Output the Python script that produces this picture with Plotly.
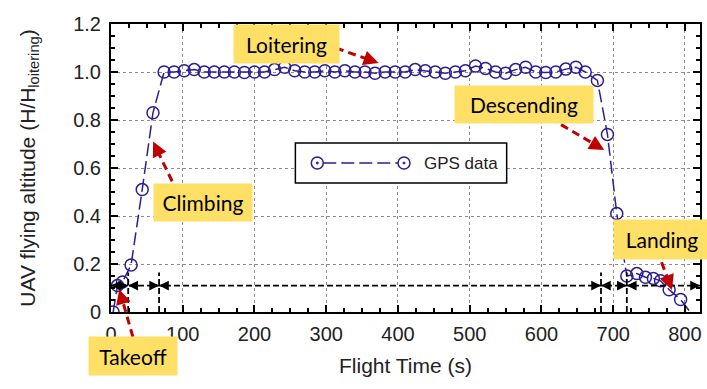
import plotly.graph_objects as go

# ---- flight record (time in s, altitude normalised by loitering altitude) ----
time_s = [3, 9, 16, 28, 43.5, 58.5,
          74, 88, 102, 116, 130, 144, 158, 172, 186, 200, 214, 228, 242, 256,
          270, 284, 298, 312, 326, 340, 354, 368, 382, 396, 410, 424, 438, 452,
          466, 480, 494, 508, 522, 536, 550, 564, 578, 592, 606, 620, 634, 648,
          661,
          678, 692, 705, 719, 733, 745, 756, 766, 778, 794, 815]
altitude = [0.0, 0.11, 0.125, 0.196, 0.51, 0.83,
            1.0, 1.0, 1.005, 1.01, 1.0, 1.0, 1.0, 1.0, 0.998, 1.0, 1.0, 1.01, 1.02, 1.005,
            1.0, 1.0, 1.005, 1.0, 1.005, 1.0, 1.0, 0.995, 1.0, 1.0, 1.0, 1.01, 1.005, 1.0,
            0.995, 1.0, 1.005, 1.025, 1.015, 1.0, 0.995, 1.01, 1.02, 1.0, 0.998, 1.0, 1.012, 1.02,
            1.0,
            0.965, 0.74, 0.41, 0.15, 0.16, 0.145, 0.14, 0.13, 0.093, 0.052, -0.03]

x_ticks = [0, 100, 200, 300, 400, 500, 600, 700, 800]
y_ticks = [0, 0.2, 0.4, 0.6, 0.8, 1.0, 1.2]
y_tick_text = ["0", "0.2", "0.4", "0.6", "0.8", "1.0", "1.2"]

# phase boundaries (s) and the level of the phase-duration arrows
phase_bounds = [0, 24, 67, 683, 719, 821]
phase_level = 0.11

# phase labels: text, box centre (data units), box size (px)
phase_labels = [
    ("Loitering", 245, 1.117, 105, 38),
    ("Descending", 575, 0.865, 138, 37),
    ("Climbing", 128, 0.458, 98, 37),
    ("Takeoff", 31, -0.183, 88, 38),
    ("Landing", 768, 0.302, 96, 39),
]
# pointer arrows: (tail x, tail y) -> (head x, head y), data units
phase_pointers = [
    (313.5, 1.10, 373, 1.0375),
    (611.7, 0.808, 687.5, 0.675),
    (93, 0.496, 58.7, 0.71),
    (30.5, -0.104, 11.5, 0.095),
    (761, 0.258, 782, 0.092),
]

X_MAX, Y_MAX = 821, 1.2
W, H = 707, 389
ML, MR, MT, MB = 111, 5, 24, 77
PW, PH = W - ML - MR, H - MT - MB
KX, KY = PW / X_MAX, PH / Y_MAX

BLUE = "#2d1e8f"
RED = "#c00000"
YELLOW = "#ffe066"
AX_FONT = "Liberation Sans, Arial, sans-serif"
LBL_FONT = "Lato, Carlito, sans-serif"


def px_to_paper(px, py):
    return (px - ML) / PW, (H - MB - py) / PH


fig = go.Figure()
fig.add_trace(go.Scatter(
    x=time_s, y=altitude, mode="lines+markers", name="GPS data",
    line=dict(color=BLUE, width=1.5, dash="13px,5px"),
    marker=dict(symbol="circle-open", size=12, color=BLUE, line=dict(width=1.5)),
    showlegend=False,
))

shapes = []
annotations = []

# phase boundary markers and duration arrows
for b in phase_bounds[1:-1]:
    shapes.append(dict(type="line", xref="x", yref="y", x0=b, x1=b, y0=0, y1=0.165,
                       line=dict(color="black", width=1.8, dash="6px,3px")))
shapes.append(dict(type="line", xref="x", yref="y", x0=0, x1=X_MAX,
                   y0=phase_level, y1=phase_level,
                   line=dict(color="black", width=1.8, dash="6px,3px")))
for a, b in zip(phase_bounds[:-1], phase_bounds[1:]):
    for head, off in ((a, 9), (b, -9)):
        annotations.append(dict(x=head, y=phase_level, xref="x", yref="y", text="",
                                showarrow=True, ax=off, ay=0, arrowhead=2,
                                arrowsize=1.3, arrowwidth=1.5, arrowcolor="black",
                                standoff=0))

# red dashed pointers
for tx, ty, hx, hy in phase_pointers:
    dx, dy = (hx - tx) * KX, -(hy - ty) * KY
    n = (dx * dx + dy * dy) ** 0.5
    ux, uy = dx / n, dy / n
    L = 10
    ex, ey = hx - ux * (L - 2) / KX, hy + uy * (L - 2) / KY
    shapes.append(dict(type="line", xref="paper", yref="paper",
                       x0=tx / X_MAX, y0=ty / Y_MAX, x1=ex / X_MAX, y1=ey / Y_MAX,
                       line=dict(color=RED, width=3, dash="8px,5px")))
    annotations.append(dict(x=hx, y=hy, xref="x", yref="y", text="", showarrow=True,
                            ax=-ux * L, ay=-uy * L, arrowhead=2, arrowsize=1,
                            arrowwidth=3, arrowcolor=RED, standoff=0))

# yellow phase labels
for text, cx, cy, bw, bh in phase_labels:
    annotations.append(dict(x=cx / X_MAX, y=cy / Y_MAX, xref="paper", yref="paper",
                            text=text, showarrow=False, bgcolor=YELLOW,
                            width=bw, height=bh, borderpad=0, align="center",
                            valign="middle", xanchor="center", yanchor="middle",
                            font=dict(family=LBL_FONT, size=21, color="black")))

# legend box drawn by hand so the key carries a long dashed sample
x0, y0 = px_to_paper(296, 183)
x1, y1 = px_to_paper(508, 143)
shapes.append(dict(type="rect", xref="paper", yref="paper", x0=x0, y0=y0, x1=x1, y1=y1,
                   line=dict(color="black", width=1.5), fillcolor="white"))
lx0, ly = px_to_paper(324, 163)
lx1, _ = px_to_paper(399, 163)
shapes.append(dict(type="line", xref="paper", yref="paper", x0=lx0, x1=lx1, y0=ly, y1=ly,
                   line=dict(color=BLUE, width=1.5, dash="13px,5px")))
for cxp in (318, 405):
    cx, cy = px_to_paper(cxp, 163)
    shapes.append(dict(type="circle", xref="paper", yref="paper", xsizemode="pixel",
                       ysizemode="pixel", xanchor=cx, yanchor=cy, x0=-6, x1=6, y0=-6, y1=6,
                       line=dict(color=BLUE, width=1.5)))
    shapes.append(dict(type="circle", xref="paper", yref="paper", xsizemode="pixel",
                       ysizemode="pixel", xanchor=cx, yanchor=cy, x0=-1, x1=1, y0=-1, y1=1,
                       line=dict(color=BLUE, width=1), fillcolor=BLUE))
tx_, ty_ = px_to_paper(423, 163)
annotations.append(dict(x=tx_, y=ty_, xref="paper", yref="paper", text="GPS data",
                        showarrow=False, xanchor="left", yanchor="middle",
                        font=dict(family=AX_FONT, size=17, color="#222")))

axis_common = dict(
    showline=True, linewidth=2, linecolor="black", mirror="ticks",
    ticks="inside", ticklen=7, tickwidth=1.5, tickcolor="black",
    showgrid=True, gridcolor="#8c8c8c", gridwidth=1, griddash="dot",
    zeroline=False, tickfont=dict(family=AX_FONT, size=20, color="#222"),
)

fig.update_layout(
    width=W, height=H, margin=dict(l=ML, r=MR, t=MT, b=MB),
    paper_bgcolor="white", plot_bgcolor="white",
    shapes=shapes, annotations=annotations,
    xaxis=dict(range=[0, X_MAX], tickvals=x_ticks, **axis_common,
               minor=dict(dtick=25, tick0=0, ticks="inside", ticklen=4,
                          tickcolor="black", showgrid=False),
               ticklabelstandoff=3,
               title=dict(text="Flight Time (s)", standoff=14,
                          font=dict(family=AX_FONT, size=21, color="#222"))),
    yaxis=dict(range=[0, Y_MAX], tickvals=y_ticks, ticktext=y_tick_text, **axis_common,
               minor=dict(dtick=0.05, tick0=0, ticks="inside", ticklen=4,
                          tickcolor="black", showgrid=False),
               ticklabelstandoff=4,
               title=dict(text="UAV flying altitude (H/H<sub>loitering</sub>)", standoff=32,
                          font=dict(family=AX_FONT, size=21, color="#222"))),
)

fig.write_html("out.html")
